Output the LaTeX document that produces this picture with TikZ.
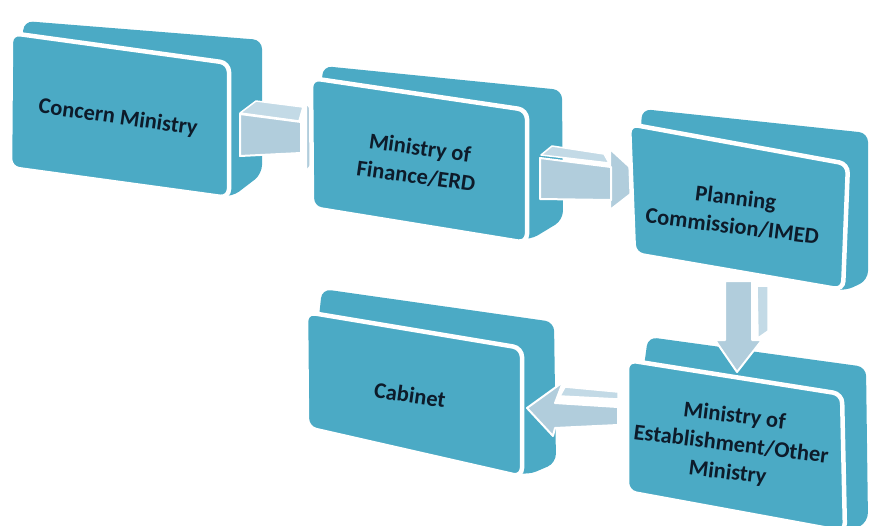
\documentclass[tikz,border=0pt]{standalone}
\usepackage{fontspec}
\setmainfont{Carlito}
\definecolor{boxc}{HTML}{4BAAC5}
\definecolor{arrc}{HTML}{B1CDDC}
\definecolor{arrtopc}{HTML}{C3DAE6}
\definecolor{txtc}{HTML}{0D1B2A}
\begin{document}
\begin{tikzpicture}[x=1pt,y=-1pt,
  backface/.style={fill=boxc, rounded corners=9pt},
  frontface/.style={fill=boxc, draw=white, line width=4.5pt, rounded corners=9pt},
  arrfront/.style={fill=arrc, draw=white, line width=2pt, line join=round},
  arrtop/.style={fill=arrtopc, draw=white, line width=1.5pt, line join=round},
  lbl/.style={font=\bfseries\fontsize{22.5}{28.5}\selectfont, text=txtc, align=center, rotate=-8}]
\useasboundingbox (0,0) rectangle (869,525);
% ---------- Box 1 : Concern Ministry
\fill[backface] (24,21) -- (262,40) -- (262,174) -- (232,197) -- (12,168) -- cycle;
\draw[frontface] (11,33) -- (229,63) -- (229,198) -- (10,168) -- cycle;
\node[lbl] (t1) at (118,118) {Concern Ministry};
% ---------- Arrow 1
\draw[arrfront] (306,102) -- (332,138) -- (306,172) -- cycle;
\draw[arrtop] (240,113) -- (256,101) -- (303,107) -- (299,121) -- cycle;
\draw[arrfront] (240,114) -- (301,122) -- (301,153) -- (240,156) -- cycle;
% ---------- Box 2 : Ministry of Finance/ERD
\fill[backface] (323,66) -- (562,90) -- (563,220) -- (530,240) -- (313,208) -- cycle;
\draw[frontface] (311,78) -- (527,110) -- (527,243) -- (312,208) -- cycle;
\node[lbl] (t2) at (418,162) {Ministry of\\Finance/ERD};
% ---------- Arrow 2
\draw[arrfront] (610,149) -- (646,182) -- (610,210) -- cycle;
\draw[arrtop] (541,155) -- (552,146) -- (604,154) -- (609,163) -- cycle;
\draw[arrfront] (540,158) -- (611,167) -- (611,200) -- (540,199) -- cycle;
% ---------- Box 3 : Planning Commission/IMED
\fill[backface] (642,109) -- (868,133) -- (868,280) -- (845,291) -- (635,255) -- cycle;
\draw[frontface] (629,124) -- (848,164) -- (843,290) -- (634,254) -- cycle;
\node[lbl,rotate=1] (t3) at (734,212) {Planning\\Commission/IMED};
% ---------- Box 4 : Ministry of Establishment/Other Ministry
\fill[backface] (648,337) -- (866,367) -- (868,522) -- (845,534) -- (627,492) -- cycle;
\draw[frontface] (627,360) -- (842,394) -- (845,532) -- (627,492) -- cycle;
\node[lbl,rotate=1] (t4) at (731,445) {Ministry of\\Establishment/Other\\Ministry};
% ---------- Arrow 3 (down)
\draw[arrtop] (757,286) -- (768,286) -- (768,331) -- (758,338) -- cycle;
\draw[arrfront] (725,281) -- (752,281) -- (752,340) -- (762,340) -- (737,372) -- (715,340) -- (725,340) -- cycle;
% ---------- Box 5 : Cabinet
\fill[backface] (322,289) -- (554,322) -- (556,463) -- (528,475) -- (307,428) -- cycle;
\draw[frontface] (306,312) -- (522,348) -- (522,477) -- (307,428) -- cycle;
\node[lbl] (t5) at (410,395) {Cabinet};
% ---------- Arrow 4 (left)
\draw[arrtop] (565,387) -- (618,392) -- (618,399) -- (560,396) -- cycle;
\draw[arrfront] (618,407) -- (555,403) -- (563,382) -- (527,408) -- (553,436) -- (555,428) -- (618,425) -- cycle;
\end{tikzpicture}
\end{document}
